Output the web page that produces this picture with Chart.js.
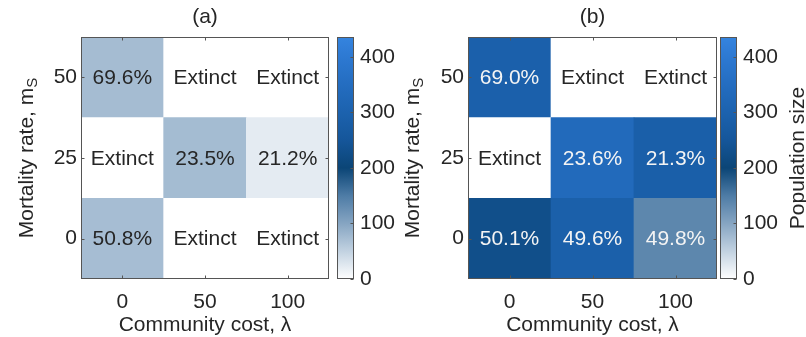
<!DOCTYPE html>
<html><head><meta charset="utf-8">
<script src="https://cdn.jsdelivr.net/npm/chart.js@4.4.0/dist/chart.umd.min.js"></script>
<style>
html,body{margin:0;padding:0;background:#fff;}
#wrap{position:relative;width:806px;height:337px;overflow:hidden;background:#fff}
canvas{position:absolute;top:0}
</style></head><body>
<div id="wrap">
<canvas id="heatA" style="left:0px;width:334px;height:337px" width="334" height="337"></canvas>
<canvas id="cbarA" style="left:334px;width:69px;height:337px" width="69" height="337"></canvas>
<canvas id="heatB" style="left:403px;width:316px;height:337px" width="316" height="337"></canvas>
<canvas id="cbarB" style="left:719px;width:87px;height:337px" width="87" height="337"></canvas>
</div>
<script>
// ---------------- data ----------------
const costLabels = ['0', '50', '100'];           // Community cost, lambda
const mortalityRows = [0, 25, 50];                // Mortality rate, m_S
// population size (colour values), one array per mortality row, columns = cost 0, 50, 100
const popA_m0  = [73, 0, 0];
const popA_m25 = [0, 75, 22];
const popA_m50 = [74, 0, 0];
const popB_m0  = [228, 290, 137];
const popB_m25 = [0, 335, 288];
const popB_m50 = [292, 0, 0];
// cell texts
const textA_m0  = ['50.8%', 'Extinct', 'Extinct'];
const textA_m25 = ['Extinct', '23.5%', '21.2%'];
const textA_m50 = ['69.6%', 'Extinct', 'Extinct'];
const textB_m0  = ['50.1%', '49.6%', '49.8%'];
const textB_m25 = ['Extinct', '23.6%', '21.3%'];
const textB_m50 = ['69.0%', 'Extinct', 'Extinct'];
const colorbarTicks = [0, 100, 200, 300, 400];
const colorbarMax = 436;
const titleA = '(a)';
const titleB = '(b)';
const xTitle = 'Community cost, \u03BB';
const yTitleMain = 'Mortality rate, m';
const yTitleSub = 'S';
const cbarTitle = 'Population size';

// ---------------- styles ----------------
const FONT = "'Liberation Sans', Arial, Helvetica, sans-serif";
const TXT = '#262626';
const EDGE = '#555555';
const cmapStops = [
  [0, '#ffffff'], [50, '#c2d2e1'], [100, '#86a5c2'], [150, '#4e7ca6'],
  [200, '#0b4576'], [250, '#15569a'], [300, '#1c62ae'], [350, '#246dc0'],
  [400, '#2d79d2'], [436, '#3584df']
];
function hex2rgb(h){return [1,3,5].map(i=>parseInt(h.substr(i,2),16));}
function cmap(v){
  if (v <= cmapStops[0][0]) return cmapStops[0][1];
  for (let i=1;i<cmapStops.length;i++){
    if (v <= cmapStops[i][0]){
      const [v0,c0]=cmapStops[i-1],[v1,c1]=cmapStops[i];
      const t=(v-v0)/(v1-v0), a=hex2rgb(c0), b=hex2rgb(c1);
      return 'rgb('+a.map((x,k)=>Math.round(x+(b[k]-x)*t)).join(',')+')';
    }
  }
  return cmapStops[cmapStops.length-1][1];
}
Chart.defaults.font.family = FONT;
Chart.defaults.color = TXT;

const boxPlugin = {
  id: 'boxPlugin',
  afterDatasetsDraw(chart, args, opts) {
    const ctx = chart.ctx;
    if (opts.cellTexts) {
      ctx.save();
      ctx.font = '21px ' + FONT;
      ctx.textAlign = 'center'; ctx.textBaseline = 'middle';
      chart.data.datasets.forEach((ds, di) => {
        const meta = chart.getDatasetMeta(di);
        meta.data.forEach((el, j) => {
          const v = opts.cellValues[di][j];
          ctx.fillStyle = v > 110 ? '#f4f4f4' : TXT;
          ctx.fillText(opts.cellTexts[di][j], el.x, (el.y + el.base) / 2 + 1);
        });
      });
      ctx.restore();
    }
  },
  afterDraw(chart, args, opts) {
    const ctx = chart.ctx, a = chart.chartArea;
    ctx.save();
    ctx.strokeStyle = EDGE; ctx.lineWidth = 1;
    const L = Math.round(a.left) + 0.5, R = Math.round(a.right) - 0.5;
    const T = Math.round(a.top) + 0.5, B = Math.round(a.bottom) - 0.5;
    ctx.strokeRect(L, T, R - L, B - T);
    const tl = 3;
    ctx.beginPath();
    if (opts.xTicks) {
      const xs = chart.scales.x;
      xs.ticks.forEach((t, i) => {
        const x = Math.round(xs.getPixelForTick(i)) + 0.5;
        ctx.moveTo(x, B); ctx.lineTo(x, B - tl);
        ctx.moveTo(x, T); ctx.lineTo(x, T + tl);
      });
    }
    if (opts.yTicks) {
      const ys = chart.scales.y;
      ys.ticks.forEach((t) => {
        const y = Math.round(ys.getPixelForValue(t.value)) + 0.5;
        if (opts.yTicksLeft) { ctx.moveTo(L, y); ctx.lineTo(L + tl, y); }
        ctx.moveTo(R, y); ctx.lineTo(R - tl, y);
      });
    }
    ctx.stroke();
    if (opts.rotTitle) {
      const rt = opts.rotTitle;
      ctx.fillStyle = TXT;
      ctx.translate(rt.x, (a.top + a.bottom) / 2);
      ctx.rotate(-Math.PI / 2);
      ctx.textBaseline = 'middle'; ctx.textAlign = 'left';
      ctx.font = '21px ' + FONT;
      const w1 = ctx.measureText(rt.main).width;
      let w2 = 0;
      if (rt.sub) { ctx.font = '15px ' + FONT; w2 = ctx.measureText(rt.sub).width; }
      const x0 = -(w1 + w2) / 2;
      ctx.font = '21px ' + FONT;
      ctx.fillText(rt.main, x0, 0);
      if (rt.sub) { ctx.font = '15px ' + FONT; ctx.fillText(rt.sub, x0 + w1, 6); }
    }
    ctx.restore();
  }
};

function makeHeat(id, title, values, texts, yWidth, rightPad, yTitleX) {
  const datasets = mortalityRows.map((m, r) => ({
    data: costLabels.map(() => [m - 12.5, m + 12.5]),
    backgroundColor: values[r].map(cmap),
    borderWidth: 0,
    barPercentage: 1, categoryPercentage: 1, grouped: false
  }));
  return new Chart(document.getElementById(id), {
    type: 'bar',
    data: { labels: costLabels, datasets },
    plugins: [boxPlugin],
    options: {
      responsive: false, animation: false,
      layout: { padding: { left: 0, right: rightPad, top: 0, bottom: 0 } },
      plugins: {
        legend: { display: false }, tooltip: { enabled: false },
        title: { display: true, text: title, fullSize: false, color: TXT,
          font: { size: 21, weight: 'normal', lineHeight: '24px' }, padding: { top: 5, bottom: 8 } },
        boxPlugin: { cellTexts: texts, cellValues: values, xTicks: true, yTicks: true, yTicksLeft: true,
          rotTitle: { x: yTitleX, main: yTitleMain, sub: yTitleSub } }
      },
      scales: {
        x: {
          type: 'category', offset: true,
          grid: { display: false, drawTicks: false, tickLength: 0 },
          border: { display: false },
          ticks: { font: { size: 21 }, color: TXT, padding: 11, maxRotation: 0 },
          title: { display: true, text: xTitle, color: TXT, font: { size: 21, lineHeight: '24px' }, padding: { top: 0, bottom: 0 } },
          afterFit: s => { s.height = 58; }
        },
        y: {
          type: 'linear', min: -12.5, max: 62.5,
          grid: { display: false, drawTicks: false, tickLength: 0 },
          border: { display: false },
          afterBuildTicks: s => { s.ticks = mortalityRows.map(v => ({ value: v })); },
          ticks: { font: { size: 21 }, color: TXT, padding: 4, callback: v => String(v) },
          afterFit: s => { s.width = yWidth; }
        }
      }
    }
  });
}

function makeCbar(id, leftPad, axisWidth, withTitle) {
  return new Chart(document.getElementById(id), {
    type: 'bar',
    data: { labels: ['cb'], datasets: [{
      data: [colorbarMax], borderWidth: 0, barPercentage: 1, categoryPercentage: 1,
      backgroundColor: (c) => {
        const ch = c.chart; if (!ch.chartArea) return '#fff';
        const ys = ch.scales.y;
        const y0 = ys.getPixelForValue(0), y1 = ys.getPixelForValue(colorbarMax);
        const g = ch.ctx.createLinearGradient(0, y0, 0, y1);
        cmapStops.forEach(([v, col]) => g.addColorStop(Math.min(1, v / colorbarMax), col));
        return g;
      }
    }] },
    plugins: [boxPlugin],
    options: {
      responsive: false, animation: false,
      layout: { padding: { left: leftPad, right: 0, top: 37, bottom: 58 } },
      plugins: {
        legend: { display: false }, tooltip: { enabled: false },
        boxPlugin: { xTicks: false, yTicks: true, yTicksLeft: false,
          rotTitle: withTitle ? { x: 79, main: cbarTitle } : null }
      },
      scales: {
        x: { display: false, offset: true },
        y: {
          position: 'right', type: 'linear', min: 0, max: colorbarMax,
          grid: { display: false, drawTicks: false, tickLength: 0 },
          border: { display: false },
          afterBuildTicks: s => { s.ticks = colorbarTicks.map(v => ({ value: v })); },
          ticks: { font: { size: 21 }, color: TXT, padding: 6, callback: v => String(v) },
          afterFit: s => { s.width = axisWidth; }
        }
      }
    }
  });
}

makeHeat('heatA', titleA, [popA_m0, popA_m25, popA_m50], [textA_m0, textA_m25, textA_m50], 81, 5, 27);
makeCbar('cbarA', 3, 49, false);
makeHeat('heatB', titleB, [popB_m0, popB_m25, popB_m50], [textB_m0, textB_m25, textB_m50], 65, 2, 10);
makeCbar('cbarB', 1, 69, true);
</script>
</body></html>
